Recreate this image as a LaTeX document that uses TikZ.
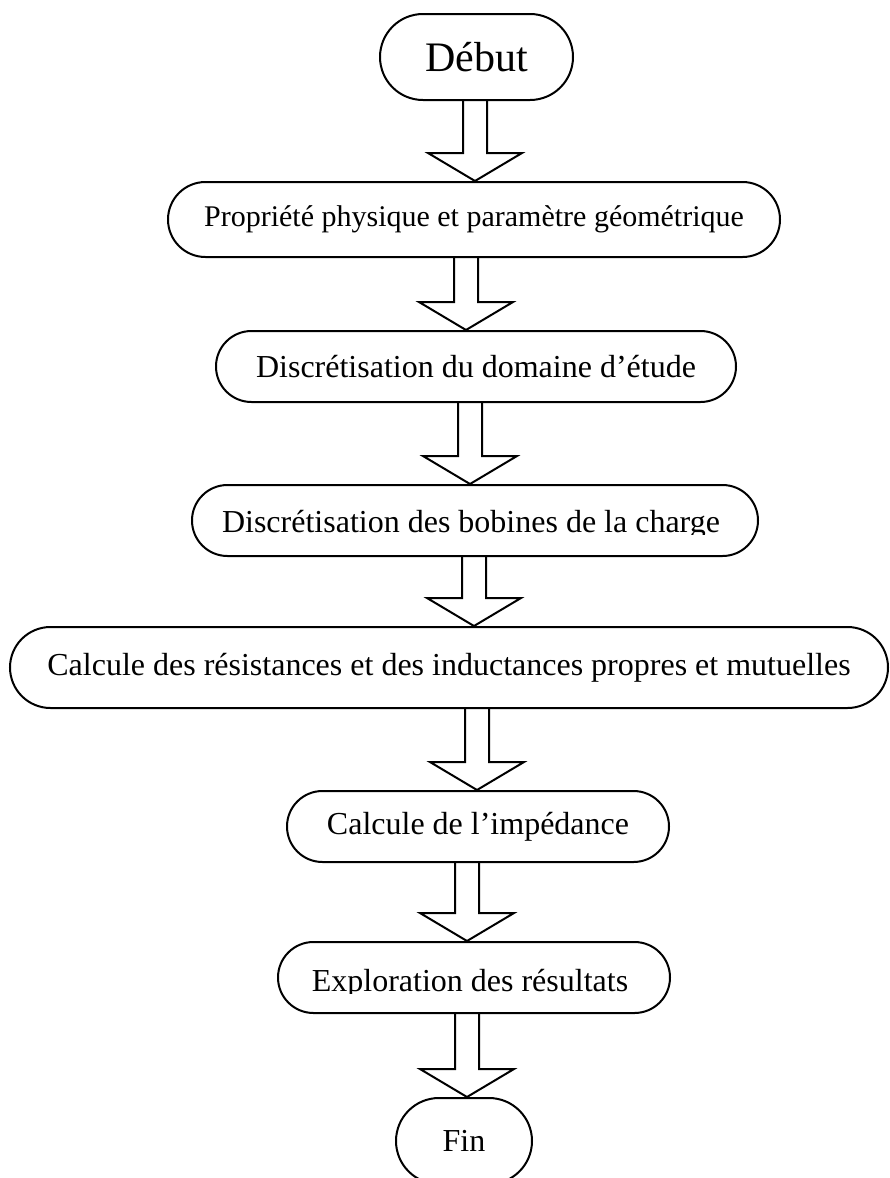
\documentclass[tikz,border=0pt]{standalone}
\usepackage{fontspec}
\setmainfont{Liberation Serif}
\usetikzlibrary{calc}

\tikzset{
  stepbox/.style 2 args={draw, minimum width=#1, minimum height=#2, rounded corners={0.5*#2}, inner sep=0pt},
  steptext/.style={font=\fontsize{32}{36}\selectfont, inner sep=0pt},
  arrowline/.style={line width=2pt, line join=miter}
}

\begin{document}
\begin{tikzpicture}[x=1pt, y=-1pt, line width=2pt]
\useasboundingbox (0,0) rectangle (890,1178);
% block arrow: from node, to node, x of the shaft
\newcommand{\flowarrow}[3]{\draw[arrowline] let \p1=(#1.south), \p2=(#2.north) in
  ({#3pt-12pt},\y1) -- ({#3pt-12pt},{\y2+28pt}) -- ({#3pt-47pt},{\y2+28pt}) -- (#3pt,\y2)
  -- ({#3pt+47pt},{\y2+28pt}) -- ({#3pt+12pt},{\y2+28pt}) -- ({#3pt+12pt},\y1);}
% steps
\node[stepbox={193}{86}, font=\fontsize{42}{48}\selectfont] (start) at (476.5,57) {Début};
\node[stepbox={612}{75}, font=\fontsize{30}{36}\selectfont] (prop) at (474,219.5) {Propriété physique et paramètre géométrique};
\node[stepbox={520}{71}, steptext] (disc1) at (476,366.5) {Discrétisation du domaine d’étude};
\node[stepbox={566}{71}] (disc2) at (475,520.5) {};
\begin{scope}
  \clip (190,490) rectangle (760,534);
  \node[steptext, anchor=base] (disc2txt) at (471,532) {Discrétisation des bobines de la charge};
\end{scope}
\node[stepbox={878}{81}, steptext] (calc) at (449,667.5) {Calcule des résistances et des inductances propres et mutuelles};
\node[stepbox={382}{71}, steptext] (imp) at (478,826.5) {Calcule de l’impédance};
\node[stepbox={392}{71}] (expl) at (474,977.5) {};
\begin{scope}
  \clip (280,945) rectangle (670,993);
  \node[steptext, anchor=base] (expltxt) at (470,991) {Exploration des résultats};
\end{scope}
\node[stepbox={136}{86}, steptext] (fin) at (464,1141) {Fin};
% arrows between steps
\flowarrow{start}{prop}{475}
\flowarrow{prop}{disc1}{466}
\flowarrow{disc1}{disc2}{470}
\flowarrow{disc2}{calc}{474}
\flowarrow{calc}{imp}{477}
\flowarrow{imp}{expl}{467}
\flowarrow{expl}{fin}{467}
\end{tikzpicture}
\end{document}
